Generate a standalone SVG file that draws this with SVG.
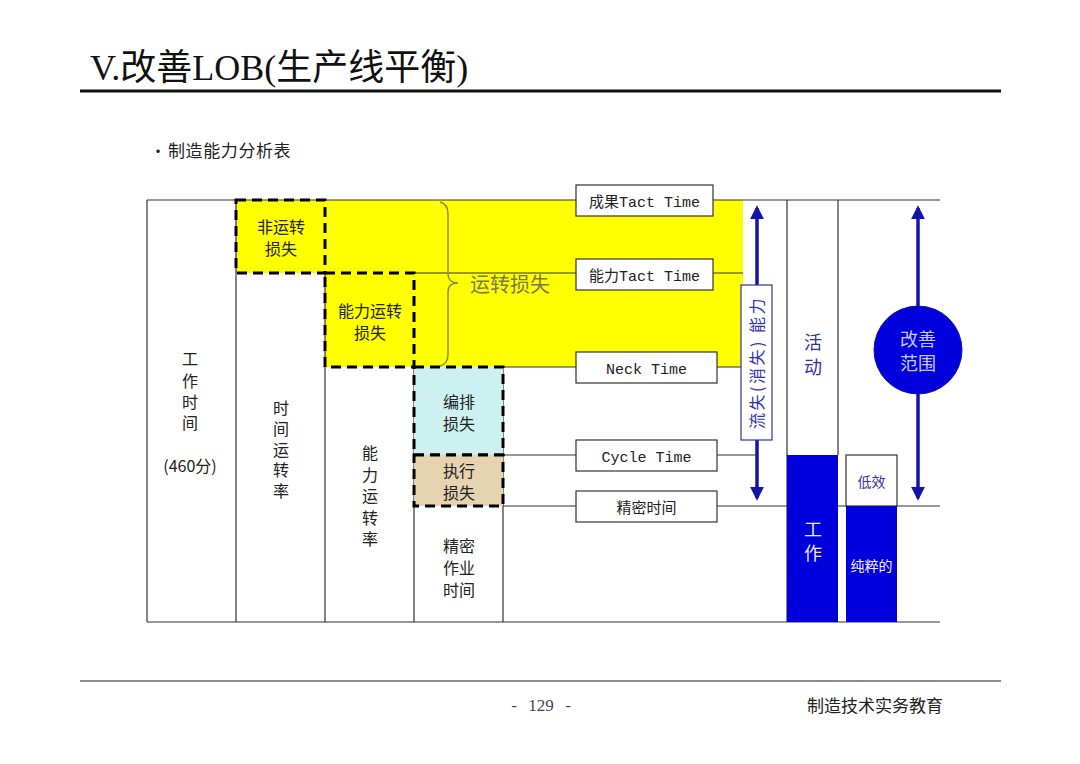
<svg xmlns="http://www.w3.org/2000/svg" width="1080" height="764" viewBox="0 0 1080 764">
<style>
.t{font-family:"Noto Sans CJK SC","Noto Sans",sans-serif;fill:#222;font-size:16px;text-anchor:middle}
.v{font-family:"Noto Sans CJK SC",sans-serif;fill:#222;font-size:16px;text-anchor:middle;writing-mode:vertical-rl;text-orientation:upright}
.lbl{font-family:"Liberation Mono","Noto Sans CJK SC",monospace;fill:#222;font-size:15px;text-anchor:middle}
.ln{stroke:#333;stroke-width:1.2;fill:none}
.box{fill:#fff;stroke:#333;stroke-width:1.2}
.dash{stroke:#000;stroke-width:3;stroke-dasharray:10 6}
.blue{fill:#0000dd}
.arr{stroke:#1414a8;stroke-width:3.5;fill:none}
.bt{font-family:"Noto Sans CJK SC",sans-serif;font-size:18px;text-anchor:middle}
</style>
<defs>
<marker id="ah" viewBox="0 0 10 10" refX="8" refY="5" markerWidth="4" markerHeight="4" orient="auto-start-reverse">
<path d="M0,0 L10,5 L0,10 z" fill="#1414a8"/>
</marker>
</defs>
<rect width="1080" height="764" fill="#fff"/>
<g id="header">
<text x="90" y="80" style="font-family:'Liberation Serif','Noto Sans CJK SC',serif;font-size:36px;fill:#111">V.改善LOB(生产线平衡)</text>
<line x1="80" y1="91" x2="1001" y2="91" stroke="#111" stroke-width="3"/>
<text x="150" y="157" style="font-family:'Noto Sans CJK SC',sans-serif;font-size:16px;fill:#222">・</text>
<text x="168" y="157" style="font-family:'Noto Sans CJK SC',sans-serif;font-size:17px;letter-spacing:0.6px;fill:#222">制造能力分析表</text>
</g>
<g id="yellow">
<path d="M236,200 L743,200 L743,367 L325,367 L325,273 L236,273 z" fill="#ffff00"/>
</g>
<g id="connectors">
<line class="ln" x1="147" y1="200" x2="940" y2="200"/>
<line class="ln" x1="147" y1="622" x2="940" y2="622"/>
<line class="ln" x1="147" y1="200" x2="147" y2="622"/>
<line class="ln" x1="236" y1="200" x2="236" y2="622"/>
<line class="ln" x1="325" y1="273" x2="325" y2="622"/>
<line class="ln" x1="414" y1="367" x2="414" y2="622"/>
<line class="ln" x1="503" y1="367" x2="503" y2="622"/>
<line class="ln" x1="414" y1="273" x2="743" y2="273"/>
<line class="ln" x1="503" y1="367" x2="743" y2="367"/>
<line class="ln" x1="503" y1="455" x2="757" y2="455"/>
<line class="ln" x1="503" y1="506" x2="940" y2="506"/>
<line class="ln" x1="787" y1="200" x2="787" y2="622"/>
<line class="ln" x1="838" y1="200" x2="838" y2="455"/>
<path d="M440,202 Q448,204 448,214 L448,274 Q448,283 458,283 Q448,283 448,292 L448,354 Q448,364 440,366" fill="none" stroke="#8b8b55" stroke-width="1.5"/>
<line class="arr" x1="757" y1="208" x2="757" y2="498" marker-start="url(#ah)" marker-end="url(#ah)"/>
<line class="arr" x1="918" y1="208" x2="918" y2="498" marker-start="url(#ah)" marker-end="url(#ah)"/>
</g>
<g id="col1">
<text class="v" x="190" y="394" style="letter-spacing:5.3px">工作时间</text>
<text class="t" x="190" y="472">(460分)</text>
</g>
<g id="col2">
<rect x="236" y="200" width="89" height="73" fill="none" class="dash"/>
<text class="t"><tspan x="281" y="233">非运转</tspan><tspan x="281" y="255">损失</tspan></text>
<text class="v" x="281" y="452" style="letter-spacing:4.8px">时间运转率</text>
</g>
<g id="col3">
<rect x="325" y="273" width="89" height="94" fill="none" class="dash"/>
<text class="t"><tspan x="370" y="317">能力运转</tspan><tspan x="370" y="339">损失</tspan></text>
<text class="v" x="370" y="499" style="letter-spacing:5.5px">能力运转率</text>
</g>
<g id="col4">
<rect x="414" y="367" width="89" height="88" fill="#cdf1f1" class="dash"/>
<rect x="414" y="455" width="89" height="51" fill="#e6d3b0" class="dash"/>
<text class="t"><tspan x="459" y="408">编排</tspan><tspan x="459" y="430">损失</tspan></text>
<text class="t"><tspan x="459" y="477">执行</tspan><tspan x="459" y="499">损失</tspan></text>
<text class="t"><tspan x="459" y="552">精密</tspan><tspan x="459" y="574">作业</tspan><tspan x="459" y="596">时间</tspan></text>
</g>
<g id="loss-label">
<text x="470" y="292" style="font-family:'Noto Sans CJK SC',sans-serif;font-size:20px;fill:#7a7a50">运转损失</text>
</g>
<g id="tact-result">
<rect class="box" x="576" y="185" width="137" height="31"/>
<text class="lbl" x="644.5" y="207">成果Tact Time</text>
</g>
<g id="tact-capacity">
<rect class="box" x="576" y="259" width="137" height="31"/>
<text class="lbl" x="644.5" y="281">能力Tact Time</text>
</g>
<g id="neck-time">
<rect class="box" x="576" y="352" width="141" height="31"/>
<text class="lbl" x="646.5" y="374">Neck Time</text>
</g>
<g id="cycle-time">
<rect class="box" x="576" y="440" width="141" height="31"/>
<text class="lbl" x="646.5" y="462">Cycle Time</text>
</g>
<g id="precise-time">
<rect class="box" x="576" y="491" width="141" height="31"/>
<text class="lbl" x="646.5" y="513">精密时间</text>
</g>
<g id="lost-capacity">
<rect x="741" y="285" width="31" height="155" fill="#fff" stroke="#3333aa" stroke-width="1.2"/>
<text transform="translate(757,362.5) rotate(-90)" x="0" y="6" style="font-family:'Noto Sans CJK SC',sans-serif;font-size:16px;letter-spacing:2.5px;fill:#3333aa;text-anchor:middle">流失(消失) 能力</text>
</g>
<g id="activity">
<text class="bt" x="813" y="358" fill="#333399" style="writing-mode:vertical-rl;text-orientation:upright;letter-spacing:7px">活动</text>
<rect class="blue" x="787" y="455" width="51" height="167"/>
<text class="bt" x="813" y="544" fill="#e8e8f8" style="writing-mode:vertical-rl;text-orientation:upright;letter-spacing:6px">工作</text>
</g>
<g id="inefficient">
<rect x="846" y="455" width="51" height="51" fill="#fff" stroke="#333" stroke-width="1.2"/>
<text x="871.5" y="487" style="font-family:'Noto Sans CJK SC',sans-serif;font-size:14px;fill:#333399;text-anchor:middle">低效</text>
</g>
<g id="pure">
<rect class="blue" x="846" y="506" width="51" height="116"/>
<text x="871.5" y="571" style="font-family:'Noto Sans CJK SC',sans-serif;font-size:14px;fill:#f0f0ff;text-anchor:middle">纯粹的</text>
</g>
<g id="improve-scope">
<circle cx="918" cy="350" r="44" fill="#0000dd" stroke="#1414a8" stroke-width="1"/>
<text class="bt" fill="#c8c8ff"><tspan x="918" y="346">改善</tspan><tspan x="918" y="370">范围</tspan></text>
</g>
<g id="footer">
<line x1="80" y1="681" x2="1001" y2="681" stroke="#666" stroke-width="1.5"/>
<text style="font-family:'Liberation Serif',serif;font-size:17px;fill:#444;text-anchor:middle"><tspan x="514" y="711">-</tspan><tspan x="541" y="711">129</tspan><tspan x="568" y="711">-</tspan></text>
<text x="875" y="712" style="font-family:'Noto Sans CJK SC',sans-serif;font-size:17px;fill:#222;text-anchor:middle">制造技术实务教育</text>
</g>
</svg>
